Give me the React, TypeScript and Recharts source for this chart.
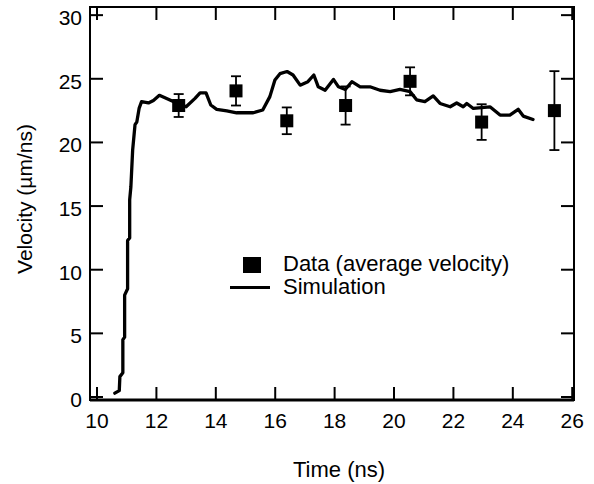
import React from 'react';
import { ComposedChart, Line, Scatter, XAxis, YAxis, ErrorBar, Legend, ReferenceArea } from 'recharts';

const simTime = [10.6, 10.75, 10.77, 10.87, 10.87, 10.93, 10.93, 11.03, 11.03, 11.1, 11.1, 11.14, 11.2, 11.28, 11.34, 11.42, 11.5, 11.73, 11.9, 12.1, 12.4, 12.68, 13.0, 13.3, 13.47, 13.67, 13.83, 14.03, 14.37, 14.7, 15.26, 15.58, 15.82, 15.99, 16.16, 16.4, 16.6, 16.84, 17.1, 17.3, 17.45, 17.68, 17.96, 18.13, 18.36, 18.58, 18.86, 19.19, 19.53, 19.87, 20.2, 20.54, 20.76, 21.04, 21.32, 21.55, 21.89, 22.11, 22.33, 22.45, 22.67, 23.23, 23.57, 23.9, 24.18, 24.35, 24.68];
const simVelocity = [0.3, 0.5, 1.6, 1.9, 4.5, 4.7, 8.0, 8.5, 12.3, 12.5, 15.5, 16.5, 19.4, 21.4, 21.6, 22.7, 23.2, 23.1, 23.3, 23.7, 23.4, 23.1, 22.8, 23.46, 23.9, 23.9, 22.94, 22.6, 22.47, 22.33, 22.33, 22.55, 23.6, 24.9, 25.4, 25.57, 25.3, 24.5, 24.77, 25.3, 24.37, 24.1, 24.95, 24.37, 24.16, 24.77, 24.37, 24.37, 24.1, 24.0, 24.16, 24.0, 23.35, 23.2, 23.65, 23.06, 22.8, 23.1, 22.8, 23.06, 22.67, 22.8, 22.15, 22.15, 22.6, 22.07, 21.8];

const dataTime = [12.75, 14.68, 16.39, 18.37, 20.54, 22.95, 25.4];
const dataVelocity = [22.9, 24.05, 21.7, 22.9, 24.8, 21.6, 22.5];
const dataError = [0.9, 1.15, 1.05, 1.5, 1.1, 1.4, 3.1];

const xTicks = [10, 12, 14, 16, 18, 20, 22, 24, 26];
const yTicks = [0, 5, 10, 15, 20, 25, 30];

const simData = simTime.map((x, i) => ({ x, y: simVelocity[i] }));
const pointData = dataTime.map((x, i) => ({ x, y: dataVelocity[i], err: dataError[i] }));

const FONT = '"Liberation Sans", Arial, sans-serif';
const W = 594;
const H = 484;
const M_TOP = 7;
const M_RIGHT = 20;
const Y_AXIS_W = 90;
const X_AXIS_H = 84;
const PLOT_LEFT = Y_AXIS_W;
const PLOT_RIGHT = W - M_RIGHT;
const PLOT_TOP = M_TOP;
const PLOT_BOTTOM = H - X_AXIS_H;
const TL = 13;
const TW = 2;
const X_DOMAIN: [number, number] = [9.764, 26.06];
const Y_DOMAIN: [number, number] = [-0.236, 30.64];

const LeftTick = (p: any) => {
  const { y, payload } = p;
  return (
    <g>
      <line x1={PLOT_LEFT} x2={PLOT_LEFT + TL} y1={y} y2={y} stroke="#000" strokeWidth={TW} />
      <line x1={PLOT_RIGHT} x2={PLOT_RIGHT - TL} y1={y} y2={y} stroke="#000" strokeWidth={TW} />
      <text x={PLOT_LEFT - 8} y={y} dy={10} textAnchor="end" fontSize={21} fontFamily={FONT} fill="#000">{payload.value}</text>
    </g>
  );
};

const BottomTick = (p: any) => {
  const { x, payload } = p;
  return (
    <g>
      <line x1={x} x2={x} y1={PLOT_BOTTOM} y2={PLOT_BOTTOM - TL} stroke="#000" strokeWidth={TW} />
      <line x1={x} x2={x} y1={PLOT_TOP} y2={PLOT_TOP + TL} stroke="#000" strokeWidth={TW} />
      <text x={x} y={PLOT_BOTTOM + 13} dy={15} textAnchor="middle" fontSize={21} fontFamily={FONT} fill="#000">{payload.value}</text>
    </g>
  );
};

const Square = (p: any) => {
  const { cx, cy } = p;
  return <rect x={cx - 6.5} y={cy - 6.5} width={13} height={13} fill="#000" />;
};

const YLabel = () => {
  const cx = 25;
  const cy = 199;
  return (
    <text x={cx} y={cy} transform={`rotate(-90, ${cx}, ${cy})`} textAnchor="middle" dy={7} fontSize={21} fontFamily={FONT} fill="#000">
      Velocity (µm/ns)
    </text>
  );
};

const XLabel = () => (
  <text x={(PLOT_LEFT + PLOT_RIGHT) / 2 + 7} y={PLOT_BOTTOM + 77} textAnchor="middle" fontSize={22} fontFamily={FONT} fill="#000">Time (ns)</text>
);

const LegendBox = () => (
  <div style={{ position: 'relative', width: 300, height: 50, fontFamily: FONT, fontSize: 22, lineHeight: '23px', color: '#000' }}>
    <div style={{ position: 'absolute', left: 15, top: 5, width: 18, height: 16, background: '#000' }} />
    <div style={{ position: 'absolute', left: 55, top: 0, whiteSpace: 'nowrap' }}>Data (average velocity)</div>
    <div style={{ position: 'absolute', left: 2, top: 34, width: 40, height: 3, background: '#000' }} />
    <div style={{ position: 'absolute', left: 55, top: 23, whiteSpace: 'nowrap' }}>Simulation</div>
  </div>
);

export default function App() {
  return (
    <div style={{ position: 'absolute', left: 0, top: 0, background: '#fff' }}>
      <ComposedChart width={W} height={H} margin={{ top: M_TOP, right: M_RIGHT, bottom: 0, left: 0 }}>
        <ReferenceArea
          x1={X_DOMAIN[0]}
          x2={X_DOMAIN[1]}
          y1={Y_DOMAIN[0]}
          y2={Y_DOMAIN[1]}
          fill="none"
          fillOpacity={0}
          stroke="#000"
          strokeWidth={2}
          ifOverflow="visible"
        />
        <XAxis
          dataKey="x"
          type="number"
          domain={X_DOMAIN}
          allowDataOverflow
          ticks={xTicks}
          interval={0}
          height={X_AXIS_H}
          tickLine={false}
          axisLine={{ stroke: '#000', strokeWidth: 2.8 }}
          tick={BottomTick}
          label={<XLabel />}
        />
        <YAxis
          type="number"
          domain={Y_DOMAIN}
          allowDataOverflow
          ticks={yTicks}
          interval={0}
          width={Y_AXIS_W}
          tickLine={false}
          axisLine={{ stroke: '#000', strokeWidth: 1.8 }}
          tick={LeftTick}
          label={<YLabel />}
        />
        <Line
          data={simData}
          dataKey="y"
          type="linear"
          stroke="#000"
          strokeWidth={3.3}
          dot={false}
          activeDot={false}
          isAnimationActive={false}
          strokeLinejoin="round"
          strokeLinecap="round"
        />
        <Scatter data={pointData} dataKey="y" fill="#000" shape={Square} isAnimationActive={false}>
          <ErrorBar dataKey="err" direction="y" width={5} stroke="#000" strokeWidth={1.8} isAnimationActive={false} />
        </Scatter>
        <Legend
          layout="vertical"
          align="center"
          verticalAlign="middle"
          content={<LegendBox />}
          wrapperStyle={{ position: 'absolute', left: 228, top: 252, width: 300, height: 50, margin: 0 }}
        />
      </ComposedChart>
    </div>
  );
}
